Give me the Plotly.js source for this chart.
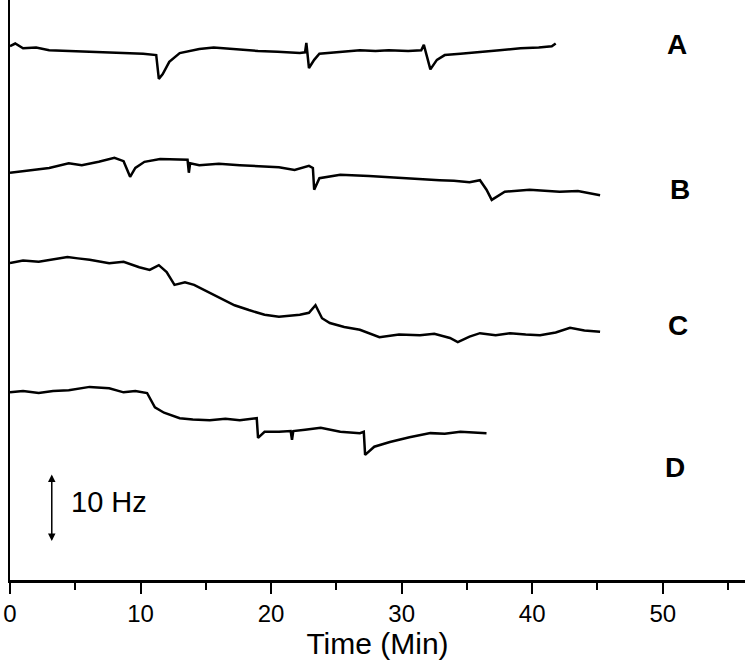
<!DOCTYPE html>
<html>
<head>
<meta charset="utf-8">
<script src="https://cdn.plot.ly/plotly-3.0.1.min.js"></script>
<style>html,body{margin:0;padding:0;background:#fff;}#chart{width:750px;height:671px;}</style>
</head>
<body>
<div id="chart"></div>
<script>
// Time (min) and frequency (Hz, offset traces)
const timeA = [0, 0.4, 1, 2, 3, 4.5, 6, 7.5, 9, 10.2, 11.2, 11.4, 11.7, 12.2, 13, 13.8, 14.5, 15.6, 16.8, 18, 19, 20.5, 22.2, 22.6, 22.7, 22.9, 23.3, 23.7, 25, 26.8, 28, 29, 30.5, 31.5, 31.7, 32.2, 32.7, 33.3, 34.5, 36, 37.5, 39.1, 40.5, 41.5, 41.8];
const freqA = [78.5, 78.9, 78.2, 78.3, 77.9, 77.8, 77.6, 77.5, 77.4, 77.4, 77.2, 73.7, 74.4, 76.2, 77.5, 77.8, 78.1, 78.3, 78.1, 78.0, 77.8, 77.7, 77.5, 77.6, 79.0, 75.3, 76.5, 77.4, 77.6, 77.9, 77.8, 77.9, 77.8, 77.9, 78.7, 75.1, 76.5, 77.2, 77.4, 77.6, 77.9, 78.2, 78.3, 78.5, 78.9];

const timeB = [0, 1.5, 3, 4.5, 5.5, 6.8, 8, 8.7, 9.2, 9.6, 10.3, 11.5, 13, 13.6, 13.7, 13.8, 14.5, 16, 17.6, 19, 20.6, 21.8, 22.9, 23.2, 23.3, 23.7, 25.3, 27.5, 29.9, 31.5, 32.9, 34, 35.2, 36.0, 36.5, 36.9, 37.9, 39.8, 41, 42.1, 43.5, 45.2];
const freqB = [59.9, 60.3, 60.6, 61.3, 61.0, 61.5, 62.1, 61.6, 59.3, 60.6, 61.5, 61.9, 61.8, 61.8, 59.9, 61.3, 61.0, 61.2, 61.0, 60.9, 60.7, 60.3, 60.9, 60.6, 57.4, 59.1, 59.6, 59.4, 59.1, 59.0, 58.8, 58.7, 58.5, 58.8, 57.4, 55.9, 57.1, 57.4, 57.2, 57.1, 57.2, 56.6];

const timeC = [0, 1, 2.2, 3.3, 4.4, 5.2, 6.1, 7.6, 8.7, 9.9, 10.7, 11.4, 12.0, 12.6, 13.4, 14.1, 14.9, 15.7, 16.4, 17.2, 18.3, 19.5, 20.6, 22.2, 22.9, 23.4, 23.9, 24.5, 25.6, 26.8, 28.3, 29.8, 31.4, 32.5, 33.7, 34.3, 35.2, 36.0, 37.2, 38.3, 39.5, 40.6, 41.8, 42.9, 44, 45.2];
const freqC = [46.6, 47.0, 46.8, 47.1, 47.5, 47.3, 47.1, 46.6, 46.8, 46.0, 45.6, 46.3, 45.3, 43.4, 43.8, 43.4, 42.6, 41.9, 41.2, 40.4, 39.7, 39.0, 38.7, 39.0, 39.3, 40.4, 38.5, 37.8, 37.2, 36.8, 35.7, 36.1, 36.0, 36.2, 35.6, 35.0, 35.8, 36.3, 36.0, 36.3, 36.1, 36.0, 36.4, 37.1, 36.7, 36.5];

const timeD = [0, 1, 2.2, 3.3, 4.5, 6.1, 7.6, 8.7, 9.6, 10.5, 11.1, 11.8, 13, 14, 15.3, 16.5, 17.6, 18.9, 19.0, 19.5, 20.6, 21.5, 21.6, 21.7, 22.6, 23.8, 25.3, 26.8, 27.1, 27.2, 27.9, 29.1, 30.6, 32.2, 33.3, 34.5, 35.5, 36.5];
const freqD = [27.6, 27.8, 27.5, 27.8, 27.9, 28.4, 28.2, 27.6, 27.8, 27.5, 25.4, 24.6, 23.8, 23.6, 23.5, 23.7, 23.5, 23.8, 20.9, 21.8, 21.8, 21.9, 20.6, 21.9, 22.1, 22.4, 21.8, 21.6, 21.8, 18.4, 19.6, 20.3, 21.0, 21.6, 21.5, 21.8, 21.7, 21.6];

const traceLabels = ['A', 'B', 'C', 'D'];
const labelX = [51.1, 51.3, 51.2, 50.9];
const labelY = [78.7, 57.4, 37.5, 16.6];
const xTicks = [0, 10, 20, 30, 40, 50];

const series = [[timeA, freqA], [timeB, freqB], [timeC, freqC], [timeD, freqD]];
const data = series.map((s, i) => ({
  x: s[0], y: s[1], type: 'scatter', mode: 'lines', name: traceLabels[i],
  line: {color: '#000', width: 2.5}, hoverinfo: 'skip'
}));

const annotations = traceLabels.map((t, i) => ({
  x: labelX[i], y: labelY[i], xref: 'x', yref: 'y', text: '<b>' + t + '</b>',
  showarrow: false, font: {family: 'Liberation Sans, Arial, sans-serif', size: 28, color: '#000'}
}));
annotations.push({
  x: 3.2, y: 15.5, ax: 3.2, ay: 5.5, xref: 'x', yref: 'y', axref: 'x', ayref: 'y',
  text: '', showarrow: true, arrowhead: 2, arrowside: 'end+start', arrowwidth: 1.5, arrowsize: 1, arrowcolor: '#000'
});
annotations.push({
  x: 7.6, y: 11.5, xref: 'x', yref: 'y', text: '10 Hz', showarrow: false,
  font: {family: 'Liberation Sans, Arial, sans-serif', size: 29, color: '#000'}
});

const layout = {
  width: 750, height: 671,
  margin: {l: 10, r: 5, t: 0, b: 91},
  paper_bgcolor: '#fff', plot_bgcolor: '#fff',
  showlegend: false,
  font: {family: 'Liberation Sans, Arial, sans-serif', color: '#000'},
  xaxis: {
    range: [0, 56.3], tickvals: xTicks, ticktext: xTicks.map(String),
    ticks: 'outside', ticklen: 11, tickwidth: 2, tickcolor: '#000',
    minor: {dtick: 5, tick0: 0, ticks: 'outside', ticklen: 7, tickwidth: 2, tickcolor: '#000'},
    showline: true, linewidth: 2.5, linecolor: '#000',
    showgrid: false, zeroline: false,
    tickfont: {size: 24, color: '#000'},
    title: {text: 'Time (Min)', font: {size: 30, color: '#000'}, standoff: 6}
  },
  yaxis: {
    range: [0, 85.3], showline: true, linewidth: 2.5, linecolor: '#000',
    showticklabels: false, ticks: '', showgrid: false, zeroline: false
  },
  annotations: annotations
};

Plotly.newPlot('chart', data, layout, {displayModeBar: false, staticPlot: true});
</script>
</body>
</html>
